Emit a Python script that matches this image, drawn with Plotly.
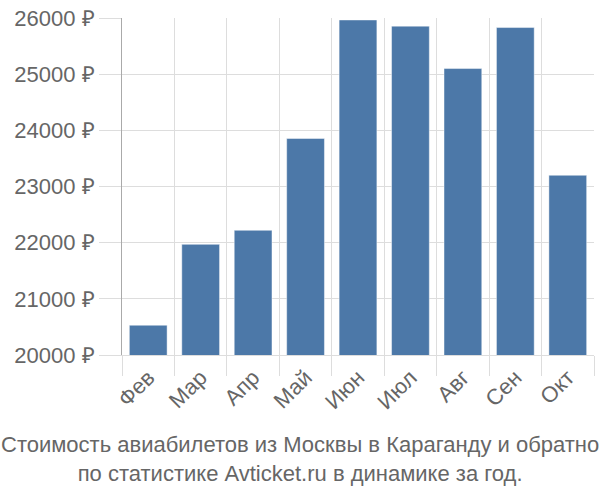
import plotly.graph_objects as go

months = ["Фев", "Мар", "Апр", "Май", "Июн", "Июл", "Авг", "Сен", "Окт"]
prices = [20530, 21970, 22220, 23855, 25965, 25855, 25100, 25830, 23200]
y_ticks = [20000, 21000, 22000, 23000, 24000, 25000, 26000]
title_text = "Стоимость авиабилетов из Москвы в Караганду и обратно<br>по статистике Avticket.ru в динамике за год."

fig = go.Figure(go.Bar(
    x=months, y=prices, base=0,
    marker=dict(color="#4c78a8", line=dict(color="rgba(255,255,255,0.45)", width=1)),
))

font = dict(family="Liberation Sans, Arial, sans-serif", size=22, color="#666666")

fig.update_layout(
    width=600, height=500,
    margin=dict(l=122, r=6, t=15, b=145),
    paper_bgcolor="white", plot_bgcolor="white",
    bargap=0.28,
    showlegend=False,
    font=font,
    xaxis=dict(
        tickangle=-45, showgrid=True, gridcolor="#dddddd", gridwidth=1,
        ticks="outside", ticklen=20, tickcolor="#dddddd",
        tickson="boundaries", showline=True, linecolor="#dddddd",
        tickfont=font, fixedrange=True,
    ),
    yaxis=dict(
        range=[20000, 26000], tickvals=y_ticks,
        ticktext=[f"{v} ₽" for v in y_ticks],
        showgrid=True, gridcolor="#dddddd", gridwidth=1,
        ticks="outside", ticklen=22, tickcolor="#dddddd",
        showline=True, linecolor="#aaaaaa", linewidth=1,
        zeroline=False, tickfont=font, fixedrange=True,
    ),
    annotations=[dict(
        text=title_text, xref="paper", yref="paper", x=0.5, y=0,
        xanchor="center", yanchor="top", yshift=-75, xshift=-58,
        showarrow=False, font=dict(family="Liberation Sans, Arial, sans-serif", size=22, color="#666666"),
        align="center",
    )],
)

fig.write_html("out.html")
